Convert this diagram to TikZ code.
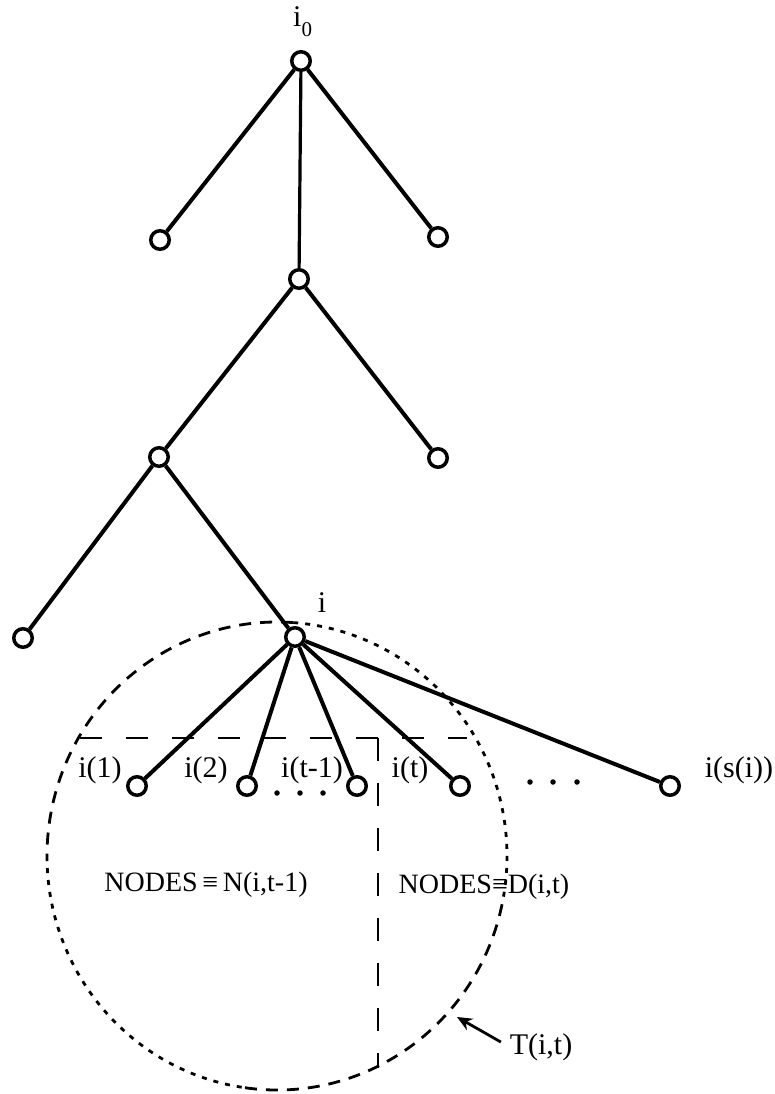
\documentclass[tikz,border=0pt]{standalone}
\usepackage{fontspec}
\setmainfont{Liberation Serif}
\usetikzlibrary{arrows.meta}
\begin{document}
\begin{tikzpicture}[x=1pt,y=1pt,
  vert/.style={circle,draw,line width=3.5pt,minimum size=18.5pt,inner sep=0pt,fill=white},
  edge/.style={line width=4pt},
  lbl/.style={inner sep=0pt,font=\fontsize{30}{30}\selectfont},
  big/.style={inner sep=0pt,font=\fontsize{28}{28}\selectfont},
  longdash/.style={line width=2.8pt,dash pattern=on 22pt off 24pt},
  cdash/.style={line width=2.8pt,dash pattern=on 12pt off 9pt},
  cdot/.style={line width=2.8pt,dash pattern=on 5pt off 7pt},
  dotmark/.style={circle,fill,inner sep=0pt,minimum size=5.5pt}]
\useasboundingbox (0,0) rectangle (774,-1094);

% enclosing curve T(i,t)
\coordinate (cc) at (277,-856);
\draw[cdash] (cc) ++(86:230 and 234) arc[start angle=86,end angle=180,x radius=230,y radius=234];
\draw[cdot]  (cc) ++(180:230 and 234) arc[start angle=180,end angle=262,x radius=230,y radius=234];
\draw[cdash] (cc) ++(262:230 and 234) arc[start angle=262,end angle=350,x radius=230,y radius=234];
\draw[cdot]  (cc) ++(350:230 and 234) arc[start angle=350,end angle=446,x radius=230,y radius=234];

% partition lines
\coordinate (hl) at (80,-738);
\coordinate (hr) at (467,-738);
\coordinate (vtop) at (378,-738);
\coordinate (vbot) at (378,-1068);
\draw[longdash] (hl) -- (hr);
\draw[line width=2.8pt,dash pattern=on 23pt off 22pt] (vtop) -- (vbot);

% tree nodes
\node[vert] (r)  at (301,-61) {};
\node[vert] (a1) at (160,-240) {};
\node[vert] (a2) at (438,-237) {};
\node[vert] (m)  at (299,-279) {};
\node[vert] (b)  at (159,-457) {};
\node[vert] (b2) at (438,-458) {};
\node[vert] (c)  at (23,-638) {};
\node[vert] (i)  at (295,-637) {};
\node[vert] (k1) at (137,-786) {};
\node[vert] (k2) at (247,-786) {};
\node[vert] (k3) at (357,-786) {};
\node[vert] (k4) at (460,-786) {};
\node[vert] (k5) at (670,-786) {};

% edges
\draw[edge] (r) -- (a1);
\draw[edge] (r) -- (a2);
\draw[line width=3.2pt] (r) -- (m);
\draw[edge] (m) -- (b);
\draw[edge] (m) -- (b2);
\draw[edge] (b) -- (c);
\draw[edge] (b) -- (i);
\draw[edge] (i) -- (k1);
\draw[edge] (i) -- (k2);
\draw[edge] (i) -- (k3);
\draw[edge] (i) -- (k4);
\draw[edge] (i) -- (k5);

% ellipsis dots
\node[dotmark] (d1) at (277,-793) {};
\node[dotmark] (d2) at (300,-793) {};
\node[dotmark] (d3) at (323,-793) {};
\node[dotmark] (e1) at (530,-782) {};
\node[dotmark] (e2) at (553,-782) {};
\node[dotmark] (e3) at (577,-782) {};

% labels
\node[lbl,anchor=base west] (l0) at (293,-27) {i\raisebox{-10pt}{\fontsize{21}{21}\selectfont 0}};
\node[lbl] (li) at (322,-603) {i};
\node[lbl] (l1) at (100,-770) {i(1)};
\node[lbl] (l2) at (206,-770) {i(2)};
\node[lbl] (l3) at (312,-770) {i(t-1)};
\node[lbl] (l4) at (410,-770) {i(t)};
\node[lbl] (l5) at (739,-770) {i(s(i))};
\node[big] (n1) at (206,-885) {NODES\,≡\,N(i,t-1)};
\node[big] (n2) at (484,-887) {NODES≡D(i,t)};
\node[lbl] (tl) at (541,-1047) {T(i,t)};
\coordinate (ttip) at (457,-1017);
\draw[line width=2.8pt,-{Stealth[length=15pt,width=13pt]},shorten <=10pt] (tl.west) -- (ttip);
\end{tikzpicture}
\end{document}
